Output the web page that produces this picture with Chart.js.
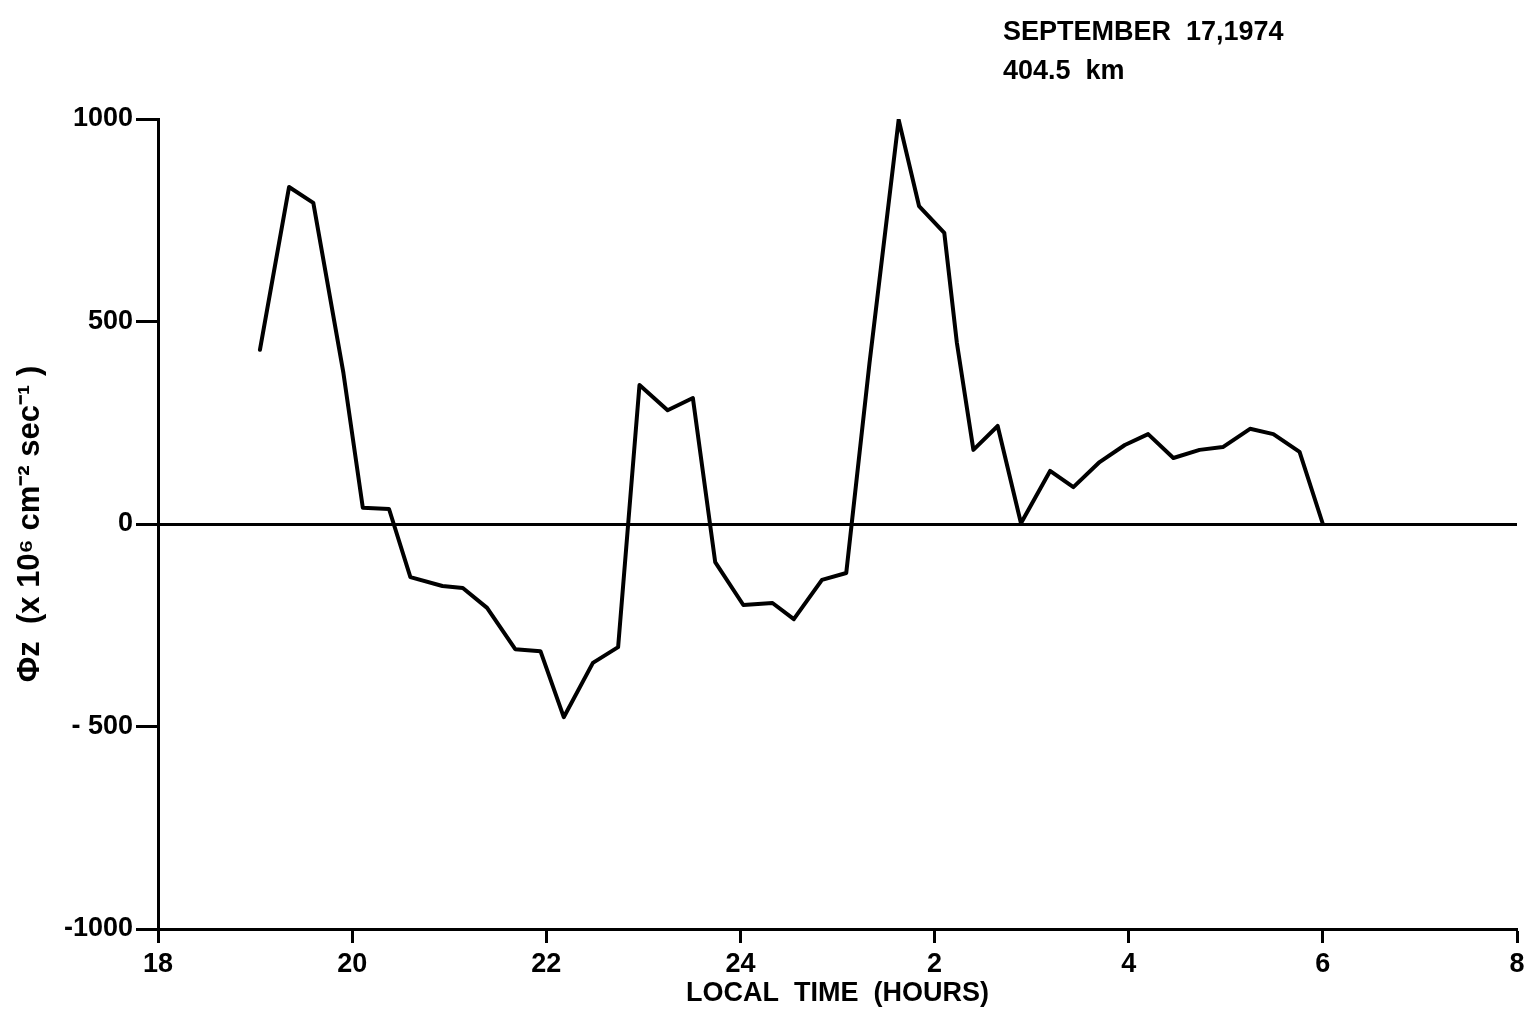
<!DOCTYPE html>
<html lang="en">
<head>
    <meta charset="UTF-8">
    <title>Vertical flux, September 17, 1974</title>
    <script src="https://cdn.jsdelivr.net/npm/chart.js"></script>
    <style>
        body { margin: 0; background: white; }
        #wrap { width: 1537px; height: 1011px; position: relative; }
    </style>
</head>
<body>
<div id="wrap"><canvas id="chart"></canvas></div>
<script>
    // local time in hours, continuing past midnight (26 = 2 h)
    const localTime = [19.05, 19.35, 19.60, 19.91, 20.11, 20.38, 20.60, 20.93, 21.14, 21.39,
        21.68, 21.94, 22.18, 22.48, 22.74, 22.96, 23.25, 23.51, 23.74, 24.03,
        24.33, 24.55, 24.84, 25.09, 25.33, 25.63, 25.84, 26.10, 26.23, 26.40,
        26.65, 26.89, 27.19, 27.43, 27.70, 27.96, 28.20, 28.46, 28.73, 28.97,
        29.25, 29.49, 29.76, 30.00];
    const fluxZ = [430, 832, 793, 373, 40, 37, -131, -153, -158, -207,
        -309, -314, -477, -343, -304, 343, 281, 311, -94, -200,
        -195, -235, -138, -121, 398, 998, 785, 719, 447, 183,
        242, 2, 131, 91, 153, 195, 222, 163, 183, 190,
        235, 222, 178, 0];

    const xTickLabels = ['18', '20', '22', '24', '2', '4', '6', '8'];
    const yTickLabels = ['-1000', '- 500', '0', '500', '1000'];

    const headerLines = ['SEPTEMBER  17,1974', '404.5  km'];

    const points = localTime.map((t, i) => ({x: t, y: fluxZ[i]}));

    const headerPlugin = {
        id: 'header',
        afterDraw(chart) {
            const ctx = chart.ctx;
            ctx.save();
            ctx.fillStyle = '#000';
            ctx.font = 'bold 27px "Liberation Sans", Arial, sans-serif';
            ctx.textAlign = 'left';
            ctx.textBaseline = 'alphabetic';
            ctx.fillText(headerLines[0], 1003, 40);
            ctx.fillText(headerLines[1], 1003, 79);
            ctx.restore();
        }
    };

    const tickFont = {family: '"Liberation Sans", Arial, sans-serif', size: 27, weight: 'bold'};

    new Chart(document.getElementById('chart'), {
        type: 'line',
        data: {
            datasets: [{
                data: points,
                borderColor: '#000',
                borderWidth: 4,
                borderJoinStyle: 'round',
                borderCapStyle: 'round',
                pointRadius: 0,
                tension: 0
            }]
        },
        options: {
            responsive: true,
            maintainAspectRatio: false,
            animation: false,
            layout: {padding: {top: 119, right: 20, bottom: 0, left: 0}},
            plugins: {legend: {display: false}, tooltip: {enabled: false}},
            scales: {
                x: {
                    type: 'linear',
                    min: 18,
                    max: 32,
                    afterFit(scale) { scale.height = 82; },
                    ticks: {
                        stepSize: 2,
                        color: '#000',
                        font: tickFont,
                        padding: 5,
                        maxRotation: 0,
                        callback: (v) => xTickLabels[(v - 18) / 2]
                    },
                    grid: {
                        color: 'transparent',
                        tickColor: '#000',
                        tickLength: 14,
                        tickWidth: 3
                    },
                    border: {color: '#000', width: 3},
                    title: {
                        display: true,
                        text: 'LOCAL  TIME  (HOURS)',
                        color: '#000',
                        font: {family: '"Liberation Sans", Arial, sans-serif', size: 27, weight: 'bold'},
                        padding: {top: 0, bottom: 1}
                    }
                },
                y: {
                    min: -1000,
                    max: 1000,
                    afterFit(scale) { scale.width = 158; },
                    ticks: {
                        stepSize: 500,
                        color: '#000',
                        font: tickFont,
                        padding: 3,
                        callback: (v) => yTickLabels[(v + 1000) / 500]
                    },
                    grid: {
                        color: (c) => c.tick && c.tick.value === 0 ? '#000' : 'transparent',
                        lineWidth: 3,
                        tickColor: '#000',
                        tickLength: 22,
                        tickWidth: 3
                    },
                    border: {color: '#000', width: 3},
                    title: {
                        display: true,
                        text: 'Φz  (x 10⁶ cm⁻² sec⁻¹ )',
                        color: '#000',
                        font: {family: '"Liberation Sans", Arial, sans-serif', size: 31, weight: 'bold'},
                        padding: {top: 12, bottom: 0}
                    }
                }
            }
        },
        plugins: [headerPlugin]
    });
</script>
</body>
</html>
